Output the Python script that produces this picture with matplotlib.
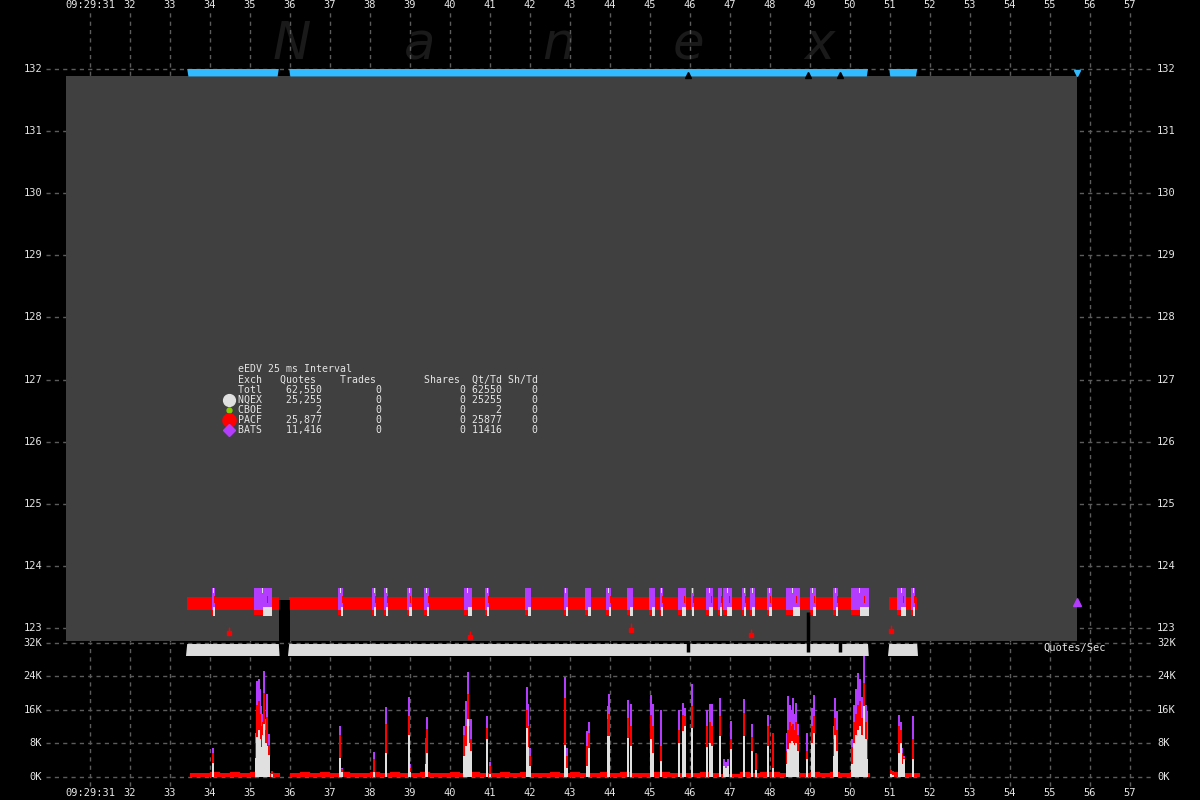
import numpy as np
import matplotlib
matplotlib.use("Agg")
import matplotlib.pyplot as plt
import matplotlib.transforms as mtransforms
from matplotlib.patches import Rectangle, Polygon
from matplotlib.lines import Line2D

# ---- time axis (seconds past 09:29:00) ----
sec_ticks = list(range(31, 58))
sec_labels = ["09:29:31"] + [str(s) for s in range(32, 58)]

price_ticks = [123, 124, 125, 126, 127, 128, 129, 130, 131, 132]
rate_ticks = [0, 8, 16, 24, 32]
rate_labels = ["0K", "8K", "16K", "24K", "32K"]

# periods with quote activity
feed_start = [33.43, 35.98, 50.98]
feed_end = [35.72, 50.45, 51.68]

# PACF bid/ask band
pacf_bid = 123.29
pacf_ask = 123.50

# bursts of NQEX/BATS quoting in the price panel
cluster_t = [34.08, 35.32, 37.27, 38.11, 38.41, 38.98, 39.42, 40.44, 40.93, 41.95,
             42.89, 43.45, 43.97, 44.50, 45.05, 45.28, 45.80, 46.06, 46.48, 46.75,
             46.93, 47.36, 47.56, 47.98, 48.57, 49.07, 49.64, 50.24, 51.28, 51.58]
cluster_w = [0.08, 0.45, 0.12, 0.10, 0.10, 0.12, 0.12, 0.20, 0.10, 0.15,
             0.10, 0.15, 0.12, 0.15, 0.15, 0.08, 0.20, 0.08, 0.18, 0.10,
             0.22, 0.10, 0.12, 0.12, 0.35, 0.15, 0.12, 0.45, 0.22, 0.10]
cluster_lo = 123.20
cluster_hi = 123.64

# trades (red)
trade_t = [34.48, 40.50, 44.52, 47.52, 51.02]
trade_px = [122.92, 122.86, 122.975, 122.89, 122.95]

last_bats_t = 55.68
last_bats_px = 123.42

# quotes/sec, 25 ms buckets (K) - cumulative stack levels
spike_t = [34.08,
           35.15, 35.18, 35.22, 35.25, 35.28, 35.32, 35.36, 35.40, 35.43, 35.48, 35.55,
           37.25, 37.29, 38.11, 38.41, 38.97, 39.00, 39.40, 39.42,
           40.36, 40.40, 40.44, 40.48, 40.52, 40.92, 40.99, 41.92, 41.96, 42.00, 42.88, 42.92,
           43.42, 43.48, 43.94, 43.98, 44.46, 44.53, 45.02, 45.08, 45.28,
           45.72, 45.82, 45.87, 46.06, 46.42, 46.50, 46.54, 46.75, 46.85, 46.90, 46.95, 47.02,
           47.36, 47.54, 47.64, 47.96, 48.08,
           48.42, 48.46, 48.50, 48.54, 48.58, 48.62, 48.66, 48.70, 48.92, 49.04, 49.10,
           49.60, 49.63, 49.67,
           50.04, 50.10, 50.15, 50.19, 50.25, 50.30, 50.36, 50.40, 50.43,
           51.02, 51.08, 51.23, 51.27, 51.29, 51.35, 51.57, 51.58]
top_nqex = [3.3,
            4.5, 9.5, 11.0, 9.0, 7.0, 10.0, 12.5, 8.0, 7.2, 5.2, 0.5,
            4.5, 1.0, 1.1, 5.5, 10.0, 1.0, 3.0, 5.7,
            5.0, 7.3, 13.7, 8.0, 6.0, 8.9, 0.5, 11.7, 7.0, 2.5, 7.5, 2.0,
            2.5, 6.9, 9.7, 9.7, 9.3, 7.3, 8.9, 5.7, 3.7,
            8.0, 10.9, 12.0, 11.7, 7.0, 8.1, 7.3, 9.7, 2.5, 2.0, 2.5, 6.5,
            9.7, 6.1, 1.5, 7.3, 2.0,
            3.0, 6.5, 8.1, 8.5, 8.0, 7.5, 8.0, 6.0, 4.1, 8.0, 10.5,
            5.0, 10.0, 6.0,
            3.0, 8.0, 10.0, 11.0, 12.0, 10.0, 16.8, 9.0, 4.1,
            0.5, 0.4, 5.7, 8.0, 3.0, 4.1, 1.5, 4.1]
top_pacf = [5.7,
            8.0, 17.0, 18.0, 15.0, 12.0, 13.0, 20.0, 11.0, 14.3, 7.5, 1.2,
            9.8, 1.8, 4.1, 12.5, 14.4, 2.0, 9.3, 11.3,
            10.0, 12.0, 19.6, 12.0, 9.0, 11.5, 2.5, 16.0, 12.0, 5.0, 18.8, 5.0,
            7.3, 10.5, 13.7, 15.0, 14.0, 12.0, 14.8, 12.0, 7.3,
            11.0, 14.8, 14.5, 16.8, 12.0, 12.9, 12.0, 14.4, 2.5, 2.0, 2.5, 9.0,
            15.2, 9.5, 5.7, 12.0, 10.5,
            6.0, 11.0, 12.9, 12.0, 12.5, 11.0, 13.0, 10.0, 6.0, 12.0, 14.4,
            9.0, 14.0, 11.0,
            7.0, 13.0, 15.0, 17.0, 18.0, 14.0, 22.4, 13.0, 8.9,
            1.5, 1.2, 12.0, 11.0, 5.7, 4.5, 5.0, 8.9]
top_bats = [6.9,
            10.5, 22.8, 23.2, 20.8, 16.8, 15.0, 25.3, 13.7, 19.8, 10.1, 1.2,
            12.0, 2.1, 5.9, 16.6, 19.0, 3.0, 9.3, 14.2,
            12.0, 18.0, 24.9, 13.7, 13.7, 14.4, 3.5, 21.3, 17.2, 6.7, 23.7, 6.7,
            10.9, 13.0, 16.8, 19.8, 18.3, 17.4, 19.4, 17.2, 15.8,
            16.0, 17.6, 16.4, 22.0, 16.0, 17.2, 17.2, 18.8, 4.1, 3.5, 4.1, 13.3,
            18.6, 12.5, 5.7, 14.6, 10.5,
            10.5, 19.2, 17.0, 16.0, 18.7, 15.0, 17.5, 12.5, 10.5, 16.4, 19.4,
            12.0, 18.7, 15.6,
            9.0, 17.0, 21.0, 24.8, 23.2, 19.0, 28.7, 17.0, 15.6,
            1.5, 1.2, 14.6, 13.0, 6.9, 5.0, 8.3, 14.4]

# background PACF quote rate, 0.25 s bins starting 33.5 (K)
base_t0 = 33.5
base_step = 0.25
base_k = [0.8, 0.9, 1.0, 0.8, 1.1, 0.9, 1.0, 0.9, 0.8,
          0.0,
          0.9, 1.0, 0.8, 1.1, 0.9, 1.0, 0.8, 0.9,
          1.0, 0.9, 1.1, 0.8, 0.9, 1.0, 0.9, 0.8,
          1.1, 0.9, 1.0, 0.9, 0.8, 1.0, 0.9, 1.1,
          0.9, 0.8, 1.0, 0.9, 1.1, 0.9, 0.8, 1.0,
          0.9, 1.0, 0.8, 0.9, 1.0, 1.1, 0.9, 0.8,
          0.9, 1.0, 0.9, 0.6, 0.7, 1.0, 0.9, 1.0,
          1.1, 0.9, 1.0, 0.8, 1.0, 0.9, 1.1, 0.9,
          1.0, 0.9,
          0.0, 0.0,
          1.0, 0.9, 0.8]

# summary table
exch = ["Totl", "NQEX", "CBOE", "PACF", "BATS"]
quotes = [62550, 25255, 2, 25877, 11416]
trades = [0, 0, 0, 0, 0]
shares = [0, 0, 0, 0, 0]

C_NQEX = "#e0e0e0"
C_CBOE = "#88cc00"
C_PACF = "#ff0000"
C_BATS = "#b43cff"
C_BLUE = "#33bbff"
C_GRID = "#5c5c5c"
C_TEXT = "#e6e6e6"
FONT = "DejaVu Sans Mono"

W, H = 1200, 800
fig = plt.figure(figsize=(12, 8), dpi=100, facecolor="black")
ax = fig.add_axes([0, 158 / H, 1, 642 / H])
ax2 = fig.add_axes([0, 0, 1, 158 / H])
for a in (ax, ax2):
    a.set_axis_off()
    a.set_xlim(28.75, 58.75)
ax.set_ylim(122.775, 133.111)
ax2.set_ylim(-5.61, 32.12)

dash = (0, (3, 3))
xv = mtransforms.blended_transform_factory(ax.transData, ax.transAxes)
xv2 = mtransforms.blended_transform_factory(ax2.transData, ax2.transAxes)
yh = mtransforms.blended_transform_factory(ax.transAxes, ax.transData)
yh2 = mtransforms.blended_transform_factory(ax2.transAxes, ax2.transData)

# grid
ax.vlines(sec_ticks, 0, 1 - 12 / 642, transform=xv, colors=C_GRID, lw=1, linestyles=dash, zorder=0)
ax2.vlines(sec_ticks, 14 / 158, 1, transform=xv2, colors=C_GRID, lw=1, linestyles=dash, zorder=0)
ax.hlines(price_ticks, 46 / W, 1153 / W, transform=yh, colors=C_GRID, lw=1, linestyles=dash, zorder=0)
ax2.hlines(rate_ticks, 46 / W, 1153 / W, transform=yh2, colors=C_GRID, lw=1, linestyles=dash, zorder=0)

# watermark
for ch, px in zip("Nanex", [292, 420, 558, 688, 820]):
    fig.text(px / W, 1 - 59 / H, ch, color="#1a1a1a", fontsize=37, style="italic",
             family="DejaVu Sans", ha="center", va="baseline", zorder=-1)

# price panel background
ax.add_patch(Rectangle((30.4, 122.79), 55.675 - 30.4, 131.887 - 122.79,
                       fc="#404040", ec="none", zorder=1))

# blue band on top
for s, e in zip(feed_start, feed_end):
    ax.add_patch(Polygon([(s, 132.0), (e, 132.0), (e - 0.03, 131.88), (s + 0.03, 131.88)],
                         closed=True, fc=C_BLUE, ec="none", zorder=3))
ax.plot([last_bats_t], [131.94], marker="v", ms=5, color=C_BLUE, ls="none", zorder=3)
ax.plot([45.95, 48.95, 49.75], [131.91] * 3, marker="^", ms=4, color="black", ls="none", zorder=4)

# PACF band
for s, e in zip(feed_start, feed_end):
    ax.fill_between([s, e], pacf_bid, pacf_ask, color=C_PACF, lw=0, zorder=3)

# bursts
for t, w in zip(cluster_t, cluster_w):
    ax.add_patch(Rectangle((t - w / 2, cluster_lo + 0.04), w, cluster_hi - cluster_lo - 0.04,
                           fc=C_BATS, ec="none", zorder=4))
    ax.add_patch(Rectangle((t, cluster_lo), w / 2, 0.14, fc=C_NQEX, ec="none", zorder=5))
    ax.add_patch(Rectangle((t - w / 2, cluster_lo + 0.01), w / 2, 0.08, fc=C_PACF, ec="none", zorder=5))
    ax.add_patch(Rectangle((t - 0.012, cluster_hi - 0.08), 0.024, 0.08, fc=C_NQEX, ec="none", zorder=5))
    ax.add_patch(Rectangle((t + w / 4, cluster_lo + 0.2), 0.02, 0.12, fc=C_PACF, ec="none", zorder=5))

# halts
ax.add_patch(Rectangle((35.72, 122.775), 0.28, 123.45 - 122.775, fc="black", ec="none", zorder=6))
ax.vlines([48.95], 122.775, 123.26, colors="black", lw=2.5, zorder=6)

# trades
ax.vlines(trade_t, trade_px, np.array(trade_px) + 0.1, colors=C_PACF, lw=1, zorder=6)
ax.plot(trade_t, trade_px, "s", ms=3.5, color=C_PACF, zorder=7)
ax.plot([last_bats_t], [last_bats_px], "^", ms=6, color=C_BATS, zorder=7)

# ---- quote rate panel ----
base_t = base_t0 + base_step * np.arange(len(base_k))
ax2.bar(base_t, base_k, width=base_step, align="edge", color=C_PACF, lw=0, zorder=2)
for s, e in zip(feed_start, feed_end):
    ax2.add_patch(Polygon([(s, 31.64), (e, 31.64), (e + 0.02, 28.78), (s - 0.03, 28.78)],
                          closed=True, fc="#dcdcdc", ec="none", zorder=3))
ax2.vlines([45.95, 48.95, 49.75], 29.7, 32.12, colors="black", lw=2.5, zorder=4)
bw = 0.05
ax2.bar(spike_t, top_bats, width=bw, color=C_BATS, lw=0, antialiased=False, zorder=5)
ax2.bar(spike_t, top_pacf, width=bw, color=C_PACF, lw=0, antialiased=False, zorder=6)
ax2.bar(spike_t, top_nqex, width=bw, color=C_NQEX, lw=0, antialiased=False, zorder=7)

# ---- labels ----
tk = dict(color=C_TEXT, fontsize=7.5, family=FONT)
for t, lab in zip(sec_ticks, sec_labels):
    ax.text(t, 1 - 5 / 642, lab, transform=xv, ha="center", va="center", **tk)
    ax2.text(t, 7 / 158, lab, transform=xv2, ha="center", va="center", **tk)
for p in price_ticks:
    ax.text(42 / W, p, str(p), transform=yh, ha="right", va="center", **tk)
    ax.text(1157 / W, p, str(p), transform=yh, ha="left", va="center", **tk)
for r, lab in zip(rate_ticks, rate_labels):
    ax2.text(42 / W, r, lab, transform=yh2, ha="right", va="center", **tk)
    ax2.text(1157 / W, r, lab, transform=yh2, ha="left", va="center", **tk)
ax2.text(1043 / W, (H - 648) / 158, "Quotes/Sec", transform=ax2.transAxes,
         ha="left", va="center", **tk)

# summary table
lk = dict(color=C_TEXT, fontsize=7.1, family=FONT, ha="left", va="center")
fig.text(238 / W, 1 - 369 / H, "eEDV 25 ms Interval", **lk)
fig.text(238 / W, 1 - 380 / H, "Exch   Quotes    Trades        Shares  Qt/Td Sh/Td", **lk)
for i, (n, q, tr, sh) in enumerate(zip(exch, quotes, trades, shares)):
    qt = q if tr == 0 else q // tr
    line = f"{n:<4}{q:>10,}{tr:>10}{sh:>14}{qt:>6}{0:>6}"
    fig.text(238 / W, 1 - (390 + 10 * i) / H, line, **lk)
for y, m, ms, c in [(400, "o", 8.5, C_NQEX), (410, "o", 3.5, C_CBOE),
                    (420, "o", 9.5, C_PACF), (430, "D", 6.0, C_BATS)]:
    fig.add_artist(Line2D([229 / W], [1 - y / H], marker=m, ms=ms, color=c,
                          ls="none", transform=fig.transFigure))

fig.savefig("out.png", dpi=100, facecolor="black")
